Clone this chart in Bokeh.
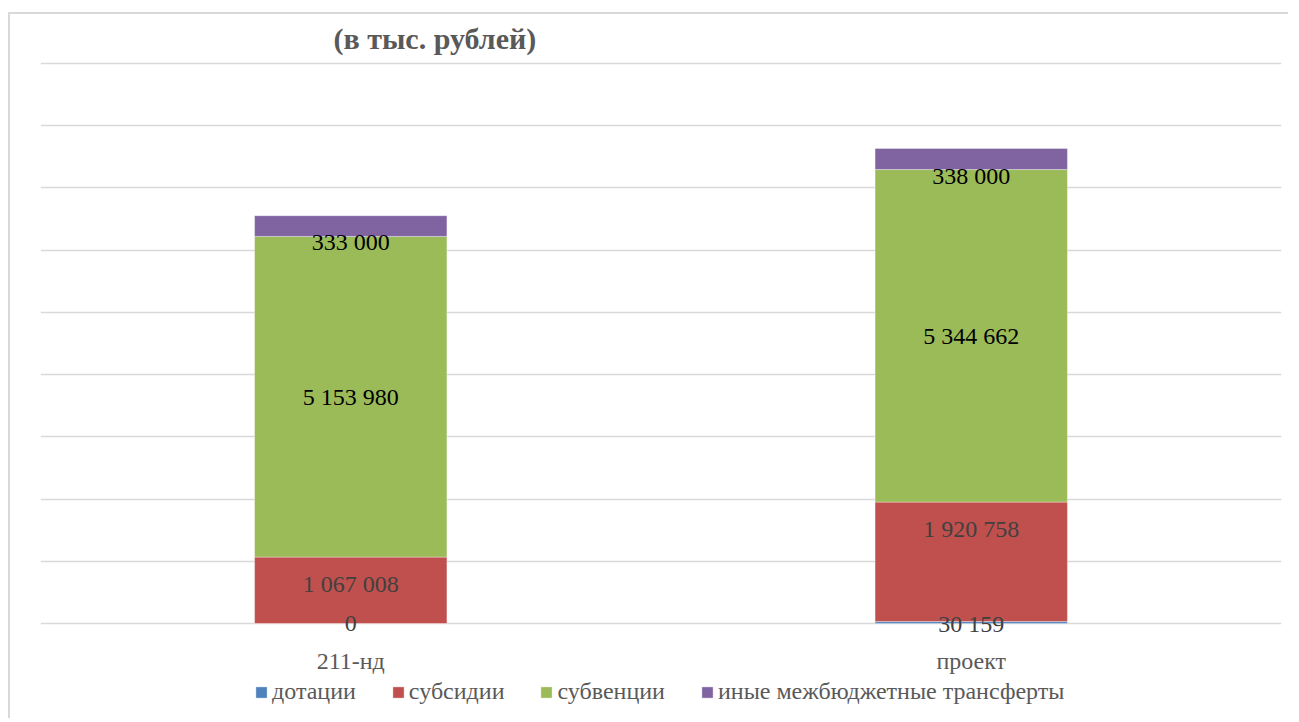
import numpy as np
from bokeh.plotting import figure
from bokeh.models import (ColumnDataSource, LabelSet, Label, Legend, LegendItem,
                          FixedTicker)
from bokeh.embed import file_html
from bokeh.resources import INLINE

# ---- data ----
categories = ["211-нд", "проект"]
series_names = ["дотации", "субсидии", "субвенции", "иные межбюджетные трансферты"]
dotacii = [0, 30159]
subsidii = [1067008, 1920758]
subvencii = [5153980, 5344662]
inye = [333000, 338000]
y_ticks = [0, 1000000, 2000000, 3000000, 4000000, 5000000, 6000000, 7000000, 8000000, 9000000]

colors = ["#4F81BD", "#C0504D", "#9BBB59", "#8064A2"]
label_colors = ["#404040", "#404040", "#000000", "#000000"]
FONT = "Liberation Serif"

keys = ["s0", "s1", "s2", "s3"]
values = [dotacii, subsidii, subvencii, inye]
src = ColumnDataSource(dict(cat=categories, **{k: v for k, v in zip(keys, values)}))

# frame spans the whole chart area so that no text is clipped;
# 0 .. 9 000 000 occupies 560 px, extra room below and above
PX_PER_UNIT = 560 / 9000000
y_start = -86 / PX_PER_UNIT
y_end = 9000000 + 38 / PX_PER_UNIT

p = figure(x_range=categories, y_range=(y_start, y_end), width=1280, height=706,
           output_backend="svg", toolbar_location=None,
           min_border_left=30, min_border_right=9, min_border_top=11, min_border_bottom=11)
p.styles = {"border-left": "2px solid #d9d9d9", "border-top": "2px solid #d9d9d9",
            "margin-top": "12px", "margin-left": "8px"}
p.outline_line_color = None
p.background_fill_color = "white"
p.border_fill_color = "white"

rs = p.vbar_stack(keys, x="cat", width=0.31, color=colors, source=src,
                  line_color="white", line_alpha=0.35, line_width=1)

# grid / axes
p.yaxis.ticker = FixedTicker(ticks=y_ticks)
p.yaxis.visible = False
p.xaxis.visible = False
p.ygrid.grid_line_color = "#D9D9D9"
p.ygrid.grid_line_width = 1.5
p.xgrid.grid_line_color = None

# category labels
csrc = ColumnDataSource(dict(x=categories, y=[0] * len(categories)))
p.add_layout(LabelSet(x="x", y="y", text="x", source=csrc, y_offset=-37,
                      text_align="center", text_baseline="middle",
                      text_font=FONT, text_font_size="24px", text_color="#595959"))

# data labels
arr = np.array(values, dtype=float)
cum_top = np.cumsum(arr, axis=0)
cum_bot = cum_top - arr
lx, ly, lt, lc, lo = [], [], [], [], []
for i in range(len(keys)):
    for j, c in enumerate(categories):
        v = values[i][j]
        if i == 0:
            yy, off = cum_bot[i, j], 0
        elif i == 1:
            yy, off = cum_top[i, j], -27
        elif i == 2:
            yy, off = (cum_bot[i, j] + cum_top[i, j]) / 2, 0
        else:
            yy, off = cum_bot[i, j], -6
        lx.append(c)
        ly.append(yy)
        lt.append(f"{v:,}".replace(",", " "))
        lc.append(label_colors[i])
        lo.append(off)
lsrc = ColumnDataSource(dict(x=lx, y=ly, t=lt, c=lc, o=lo))
p.add_layout(LabelSet(x="x", y="y", text="t", source=lsrc, y_offset="o",
                      text_align="center", text_baseline="middle",
                      text_font=FONT, text_font_size="24px", text_color="c"))

# title
p.add_layout(Label(x=293, y=671, x_units="screen", y_units="screen",
                   text="(в тыс. рублей)",
                   text_font=FONT, text_font_size="30px", text_font_style="bold",
                   text_color="#595959", text_baseline="middle", text_align="left"))

# legend
items = [LegendItem(label=n, renderers=[r]) for n, r in zip(series_names, rs)]
legend = Legend(items=items, orientation="horizontal", location=(214, 4),
                glyph_width=14, glyph_height=14, label_height=14, label_standoff=4,
                spacing=35, padding=0, margin=0, border_line_color=None,
                background_fill_alpha=0,
                label_text_font=FONT, label_text_font_size="24px",
                label_text_color="#595959", label_text_baseline="middle")
p.add_layout(legend, "center")

open("out.html", "w").write(file_html(p, INLINE))
